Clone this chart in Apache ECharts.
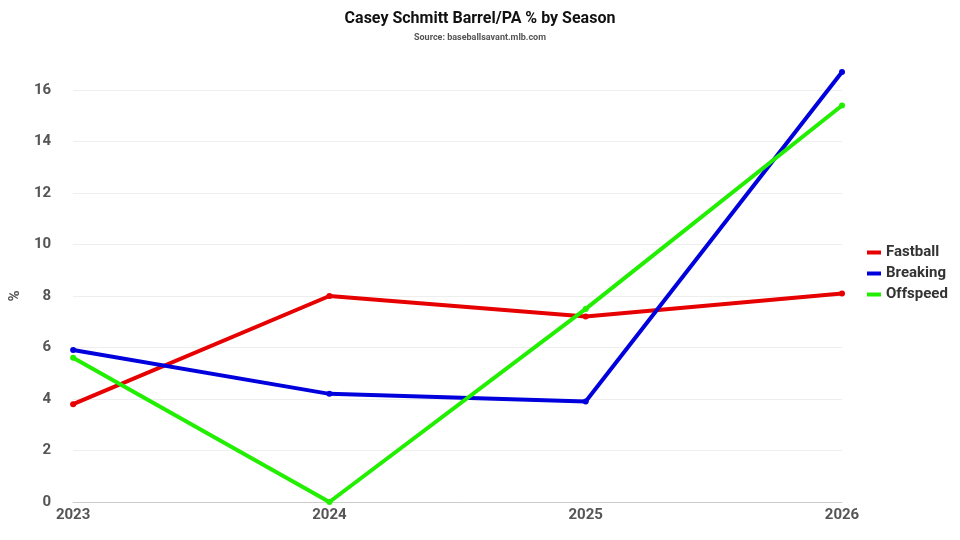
<!DOCTYPE html>
<html><head><meta charset="utf-8">
<script src="https://cdn.jsdelivr.net/npm/echarts@6/dist/echarts.min.js"></script>
<style>html,body{margin:0;padding:0;background:#fff}#c{width:960px;height:540px}</style>
</head><body><div id="c"></div>
<script>
const seasons = ['2023','2024','2025','2026'];
const fastball = [3.8, 8.0, 7.2, 8.1];
const breaking = [5.9, 4.2, 3.9, 16.7];
const offspeed = [5.6, 0.0, 7.5, 15.4];
const yTicks = [0,2,4,6,8,10,12,14,16];

const chart = echarts.init(document.getElementById('c'));
const mk = (name, data, color) => ({
  name, type:'line', data, clip:false, symbol:'circle', symbolSize:6, showSymbol:true,
  lineStyle:{width:4,color}, itemStyle:{color}, emphasis:{disabled:true}
});
chart.setOption({
  animation:false,
  textStyle:{fontFamily:'Roboto'},
  title:{text:'Casey Schmitt Barrel/PA % by Season', subtext:'Source: baseballsavant.mlb.com',
    left:'center', top:6, itemGap:6,
    textStyle:{fontSize:16,fontWeight:'bold',color:'#111',fontFamily:'Roboto'},
    subtextStyle:{fontSize:9,color:'#555',fontWeight:'bold',fontFamily:'Roboto'}},
  legend:{orient:'vertical', left:862, top:240, itemWidth:14, itemHeight:4, itemGap:6,
    icon:'rect',
    textStyle:{fontSize:15,fontWeight:'bold',color:'#333',fontFamily:'Roboto'},
    data:['Fastball','Breaking','Offspeed']},
  grid:{left:72,right:118,top:90,bottom:38},
  xAxis:{type:'category', data:seasons, boundaryGap:false,
    axisLine:{lineStyle:{color:'#ccc'}}, axisTick:{show:false},
    axisLabel:{fontSize:15,fontWeight:'bold',color:'#555',margin:6}},
  yAxis:{type:'value', min:yTicks[0], max:yTicks[yTicks.length-1], interval:2,
    name:'%', nameLocation:'middle', nameGap:50, nameRotate:90,
    nameTextStyle:{fontSize:15,color:'#555',fontWeight:'bold'},
    axisLabel:{fontSize:15,fontWeight:'bold',color:'#555',margin:22},
    splitLine:{lineStyle:{color:'#eee'}}, axisLine:{show:false}, axisTick:{show:false}},
  series:[mk('Fastball',fastball,'#e60000'), mk('Breaking',breaking,'#0000dd'), mk('Offspeed',offspeed,'#22ee00')]
});
</script></body></html>
